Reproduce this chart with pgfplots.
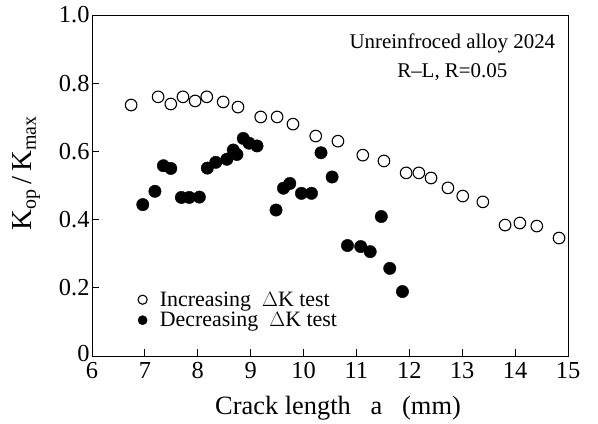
\documentclass[border=0pt]{standalone}
\usepackage{pgfplots}
\pgfplotsset{compat=1.18}
\usepackage{fontspec}
\setmainfont{Liberation Serif}
\newcommand{\lsub}[1]{\raisebox{-0.35ex}{\fontsize{20}{22}\selectfont #1}}
\begin{document}
\begin{tikzpicture}[x=1bp,y=1bp]
\begin{axis}[
  at={(0bp,0bp)}, anchor=origin,
  scale only axis, width=476bp, height=341bp,
  xmin=6, xmax=15, ymin=0, ymax=1.0,
  xtick={6,...,15},
  ytick={0,0.2,0.4,0.6,0.8,1.0},
  yticklabels={\raisebox{5bp}{0},0.2,0.4,0.6,0.8,1.0},
  tick align=inside,
  xtick pos=bottom, ytick pos=left,
  major tick length=7bp,
  axis line style={line width=1pt},
  tick style={line width=0.8pt, black},
  /pgf/number format/assume math mode=true,
  tick label style={font=\fontsize{24.5}{26}\selectfont},
  xticklabel style={yshift=-3bp},
  yticklabel style={xshift=1bp},
  xlabel={Crack length\ \ \ a\ \ \ (mm)},
  ylabel={K\lsub{op}\,/\,K\lsub{max}},
  label style={font=\fontsize{26.5}{28}\selectfont},
  xlabel style={yshift=-10bp, xshift=8bp},
  ylabel style={font=\fontsize{29}{31}\selectfont, yshift=12bp, xshift=12bp},
  legend image code/.code={\draw[#1, mark size=4.6bp] plot coordinates {(0bp,0bp)}; \path (-5bp,0bp) (15bp,0bp);},
  legend style={at={(rel axis cs:0.095,0.195)}, anchor=north west, draw=none, fill=none,
    font=\fontsize{22}{24}\selectfont, row sep=0.5bp, inner sep=0pt},
  legend cell align=left,
  clip=false,
]
\addplot[only marks, mark=o, mark size=5.8bp, mark options={line width=1.1pt, black}] coordinates {
(6.74,0.736) (7.25,0.760) (7.49,0.739) (7.72,0.760) (7.95,0.748) (8.17,0.760)
(8.48,0.745) (8.76,0.730) (9.19,0.701) (9.50,0.701) (9.80,0.680) (10.23,0.645)
(10.65,0.630) (11.12,0.589) (11.52,0.572) (11.94,0.537) (12.18,0.537) (12.41,0.522)
(12.73,0.493) (13.01,0.469) (13.39,0.452) (13.81,0.384) (14.09,0.390) (14.41,0.381)
(14.83,0.346)
};
\addlegendentry{Increasing\ \ $\Delta$K test}
\addplot[only marks, mark=*, mark size=6.2bp, mark options={black, fill=black}] coordinates {
(6.96,0.444) (7.19,0.483) (7.35,0.558) (7.49,0.550) (7.69,0.465) (7.84,0.465)
(8.03,0.466) (8.18,0.551) (8.34,0.568) (8.55,0.577) (8.67,0.604) (8.74,0.591)
(8.86,0.638) (8.97,0.624) (9.12,0.616) (9.48,0.428) (9.62,0.492) (9.74,0.506)
(9.96,0.477) (10.15,0.477) (10.33,0.596) (10.54,0.525) (10.83,0.324) (11.08,0.321)
(11.26,0.306) (11.47,0.409) (11.63,0.257) (11.87,0.189)
};
\addlegendentry{Decreasing\ \ $\Delta$K test}
\node[font=\fontsize{21}{23}\selectfont, align=center, anchor=north] at (rel axis cs:0.757,0.955)
  {Unreinfroced alloy 2024\\[6bp]R--L, R=0.05};
\end{axis}
\path[use as bounding box] (-92bp,-66bp) rectangle (506bp,356bp);
\end{tikzpicture}
\end{document}
